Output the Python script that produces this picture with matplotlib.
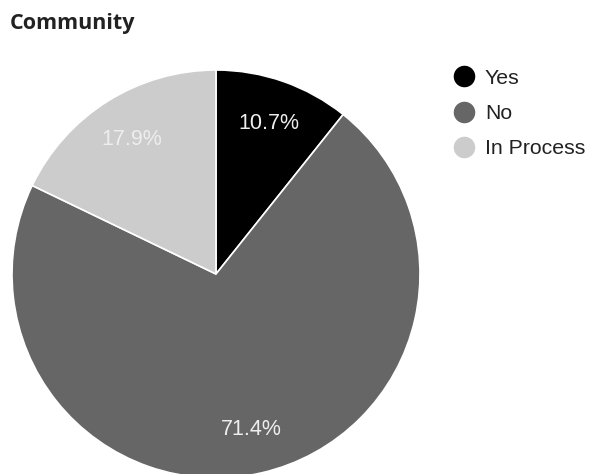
import matplotlib
matplotlib.use("Agg")
import matplotlib.pyplot as plt
from matplotlib.lines import Line2D

labels = ["Yes", "No", "In Process"]
counts = [3, 20, 5]
colors = ["#000000", "#666666", "#cccccc"]
title = "Community"

W, H = 591, 474
fig = plt.figure(figsize=(W / 100, H / 100), dpi=100)
ax = fig.add_axes([0, 0, 1, 1])
ax.set_aspect("equal")
ax.axis("off")

wedges, texts, autotexts = ax.pie(
    counts, colors=colors, startangle=90, counterclock=False,
    center=(216, H - 274), radius=204, autopct="%.1f%%", pctdistance=0.78,
    wedgeprops=dict(edgecolor="white", linewidth=1.2),
    textprops=dict(color="#eeeeee", fontsize=15.5, family="Liberation Sans"),
)
ax.set_xlim(0, W)
ax.set_ylim(0, H)

fig.text(10 / W, 1 - 23 / H, title, fontsize=15.5, fontweight="bold",
         family="Open Sans", color="#222222", va="center", ha="left")

handles = [Line2D([], [], marker="o", linestyle="", markersize=14.5,
                  markerfacecolor=c, markeredgecolor=c) for c in colors]
fig.legend(handles, labels, loc="upper left", bbox_to_anchor=(436 / W, 1 - 54 / H),
           frameon=False, handlelength=1.2, handletextpad=0.4, labelspacing=0.76,
           borderpad=0.2, prop=dict(family="Liberation Sans", size=15.3),
           labelcolor="#222222")

fig.savefig("out.png", dpi=100)
